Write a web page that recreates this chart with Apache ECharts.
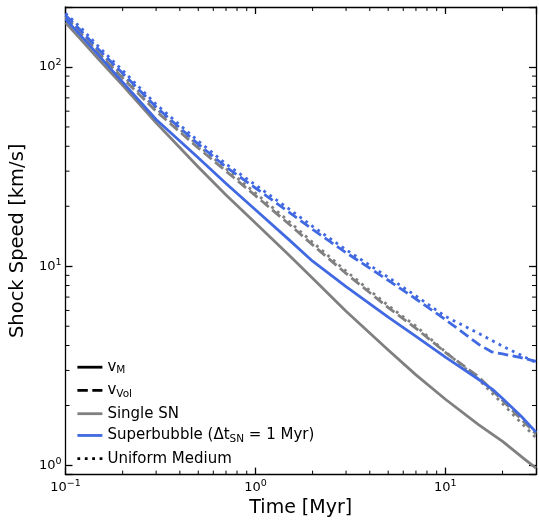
<!DOCTYPE html>
<html><head><meta charset="utf-8">
<script src="https://cdn.jsdelivr.net/npm/echarts@6/dist/echarts.min.js"></script>
<style>html,body{margin:0;padding:0;background:#fff}#c{width:539px;height:523px}</style>
</head><body><div id="c"></div>
<script>
// ---- axis ranges ----
const X_MIN = 0.1, X_MAX = 30, Y_MIN = 0.9, Y_MAX = 200;

// ---- data (Time [Myr], Shock speed [km/s]) ----
const tSingleVM   = [0.1,0.12,0.15,0.2,0.3,0.5,0.7,1,1.5,2,3,5,7,10,15,20,26,30];
const vSingleVM   = [167,138,109,81,52.5,31.5,22.8,16.5,11.4,8.7,5.95,3.8,2.85,2.15,1.6,1.32,1.08,0.97];

const tSingleVVol = [0.1,0.12,0.15,0.2,0.3,0.5,0.7,1,1.5,2,3,5,7,10,15,20,25,30];
const vSingleVVol = [178,148,117,88,60,39.2,30,22.6,16.3,12.8,9.2,6.2,4.88,3.7,2.78,2.12,1.71,1.44];

const tSingleUni  = [0.1,0.12,0.15,0.2,0.3,0.5,0.7,1,1.5,2,3,5,7,10,15,20,25,30];
const vSingleUni  = [181,151,120,90.5,61.8,40.4,30.9,23.3,16.8,13.2,9.45,6.35,5.0,3.72,2.7,2.04,1.64,1.38];

const tBubbleVM   = [0.1,0.12,0.15,0.2,0.3,0.5,0.7,1,1.5,2,3,5,7,10,15,18,20,25,30];
const vBubbleVM   = [174,144,114,84,54.5,35,26,19.2,13.6,10.6,7.9,5.55,4.45,3.5,2.7,2.38,2.17,1.77,1.47];

const tBubbleVVol = [0.1,0.12,0.15,0.2,0.3,0.5,0.7,1,1.5,2,3,5,7,10,15,17.5,20,25,30];
const vBubbleVVol = [182,153,122,93,63,41,31.5,24.7,18.7,15.3,11.7,8.5,6.85,5.4,4.05,3.72,3.63,3.48,3.33];

const tBubbleUni  = [0.1,0.12,0.15,0.2,0.3,0.5,0.7,1,1.5,2,3,5,7,10,15,20,25,30];
const vBubbleUni  = [186,158,126,96,65,42.5,32.6,25.6,19.4,15.85,12.1,8.8,7.1,5.6,4.6,3.97,3.58,3.28];

// ---- ticks ----
const xMinorTicks = [0.2,0.3,0.4,0.5,0.6,0.7,0.8,0.9,2,3,4,5,6,7,8,9,20];
const yMinorTicks = [2,3,4,5,6,7,8,9,20,30,40,50,60,70,80,90];

// ---- legend ----
const legendNames = ['vM','vVol','Single SN','Superbubble','Uniform Medium'];
const legendLabels = {
  'vM': '{v|v}{sub|M}',
  'vVol': '{v|v}{sub|Vol}',
  'Single SN': '{t|Single SN}',
  'Superbubble': '{t|Superbubble (Δt}{sub|SN}{t| = 1 Myr)}',
  'Uniform Medium': '{t|Uniform Medium}'
};

const GRAY = '#808080', BLUE = '#4169e1';
const LW = 2.8;
const DASH = [10.4, 4.5], DOT = [2.8, 4.6];

function pairs(t, v){ return t.map((x,i)=>[x, v[i]]); }

function powLabel(val){
  const e = Math.log10(val);
  const r = Math.round(e);
  if (Math.abs(e - r) > 1e-6) return '';
  return '{b|10}{s|' + (r < 0 ? '\u2212' + (-r) : r) + '}';
}
const labelRich = {
  b: {fontSize: 13, color:'#000', fontFamily:'DejaVu Sans', lineHeight: 18},
  s: {fontSize: 9.5, color:'#000', fontFamily:'DejaVu Sans', verticalAlign:'top', lineHeight: 11}
};

const axisLineStyle = {color:'#000', width:1.3};

function lineSeries(t, v, color, type, name){
  return {
    name: name, type:'line', data: pairs(t, v), symbol:'none', silent:true,
    xAxisIndex:0, yAxisIndex:0,
    lineStyle:{color:color, width:LW, type:type, cap:'butt', join:'round'},
    itemStyle:{color:color}, z: 3
  };
}
function dummy(name, color, type){
  return {name:name, type:'line', data:[], symbol:'none',
    lineStyle:{color:color, width:LW, type:type, cap:'butt'}, itemStyle:{color:color}};
}

const tickStyle = {stroke:'#000', lineWidth:1};

const option = {
  animation:false,
  backgroundColor:'#fff',
  grid:{left:65, right:1, top:7, bottom:44, containLabel:false},
  xAxis:[
    {type:'log', logBase:10, min:X_MIN, max:X_MAX, position:'bottom',
     name:'Time [Myr]', nameLocation:'middle', nameGap:16,
     nameTextStyle:{fontSize:19, color:'#000', fontFamily:'DejaVu Sans', verticalAlign:'top'},
     axisLine:{show:true, onZero:false, lineStyle:axisLineStyle},
     axisTick:{show:true, inside:true, length:7, lineStyle:{color:'#000', width:1.3}},
     axisLabel:{show:true, margin:4, formatter:powLabel, rich:labelRich, showMinLabel:true, showMaxLabel:true},
     splitLine:{show:false}, minorTick:{show:false}},
    {type:'log', logBase:10, min:X_MIN, max:X_MAX, position:'top',
     axisLine:{show:true, onZero:false, lineStyle:axisLineStyle},
     axisTick:{show:true, inside:true, length:7, lineStyle:{color:'#000', width:1.3}},
     axisLabel:{show:false}, splitLine:{show:false}}
  ],
  yAxis:[
    {type:'log', logBase:10, min:Y_MIN, max:Y_MAX, position:'left',
     name:'Shock Speed [km/s]', nameLocation:'middle', nameGap:29,
     nameTextStyle:{fontSize:19.5, color:'#000', fontFamily:'DejaVu Sans'},
     axisLine:{show:true, onZero:false, lineStyle:axisLineStyle},
     axisTick:{show:true, inside:true, length:7, lineStyle:{color:'#000', width:1.3}},
     axisLabel:{show:true, margin:4, formatter:powLabel, rich:labelRich},
     splitLine:{show:false}},
    {type:'log', logBase:10, min:Y_MIN, max:Y_MAX, position:'right',
     axisLine:{show:true, onZero:false, lineStyle:axisLineStyle},
     axisTick:{show:true, inside:true, length:7, lineStyle:{color:'#000', width:1.3}},
     axisLabel:{show:false}, splitLine:{show:false}}
  ],
  legend:{
    data: legendNames, orient:'vertical', left:76, top:359.7, padding:0,
    itemGap:6.75, itemWidth:25, itemHeight:14,
    itemStyle:{opacity:0, borderWidth:0},
    lineStyle:{width:LW},
    formatter: n => legendLabels[n],
    textStyle:{
      color:'#000', fontFamily:'DejaVu Sans', fontSize:15,
      rich:{
        t:{fontSize:15, color:'#000', fontFamily:'DejaVu Sans', lineHeight:18},
        v:{fontSize:15, color:'#000', fontFamily:'DejaVu Sans', lineHeight:18},
        sub:{fontSize:10.5, color:'#000', fontFamily:'DejaVu Sans', verticalAlign:'bottom', lineHeight:12}
      }
    }
  },
  series:[
    lineSeries(tSingleVM, vSingleVM, GRAY, 'solid', 'sSingleVM'),
    lineSeries(tSingleVVol, vSingleVVol, GRAY, DASH, 'sSingleVVol'),
    lineSeries(tSingleUni, vSingleUni, GRAY, DOT, 'sSingleUni'),
    lineSeries(tBubbleVM, vBubbleVM, BLUE, 'solid', 'sBubbleVM'),
    lineSeries(tBubbleVVol, vBubbleVVol, BLUE, DASH, 'sBubbleVVol'),
    lineSeries(tBubbleUni, vBubbleUni, BLUE, DOT, 'sBubbleUni'),
    dummy('vM', '#000', 'solid'),
    dummy('vVol', '#000', DASH),
    dummy('Single SN', GRAY, 'solid'),
    dummy('Superbubble', BLUE, 'solid'),
    dummy('Uniform Medium', '#000', DOT),
    {type:'custom', name:'xMinor', xAxisIndex:0, yAxisIndex:0, silent:true, z:5, clip:false,
     data: xMinorTicks.map(t=>[t, Y_MIN]),
     renderItem:(params, api)=>{
       const t = api.value(0);
       const b = api.coord([t, Y_MIN]), tp = api.coord([t, Y_MAX]);
       return {type:'group', children:[
         {type:'line', shape:{x1:b[0], y1:b[1], x2:b[0], y2:b[1]-4}, style:tickStyle},
         {type:'line', shape:{x1:tp[0], y1:tp[1], x2:tp[0], y2:tp[1]+4}, style:tickStyle}
       ]};
     }},
    {type:'custom', name:'yMinor', xAxisIndex:0, yAxisIndex:0, silent:true, z:5, clip:false,
     data: yMinorTicks.map(v=>[X_MIN, v]),
     renderItem:(params, api)=>{
       const v = api.value(1);
       const l = api.coord([X_MIN, v]), r = api.coord([X_MAX, v]);
       return {type:'group', children:[
         {type:'line', shape:{x1:l[0], y1:l[1], x2:l[0]+4, y2:l[1]}, style:tickStyle},
         {type:'line', shape:{x1:r[0], y1:r[1], x2:r[0]-4, y2:r[1]}, style:tickStyle}
       ]};
     }}
  ]
};
const chart = echarts.init(document.getElementById('c'), null, {renderer:'canvas'});
chart.setOption(option);
</script></body></html>
